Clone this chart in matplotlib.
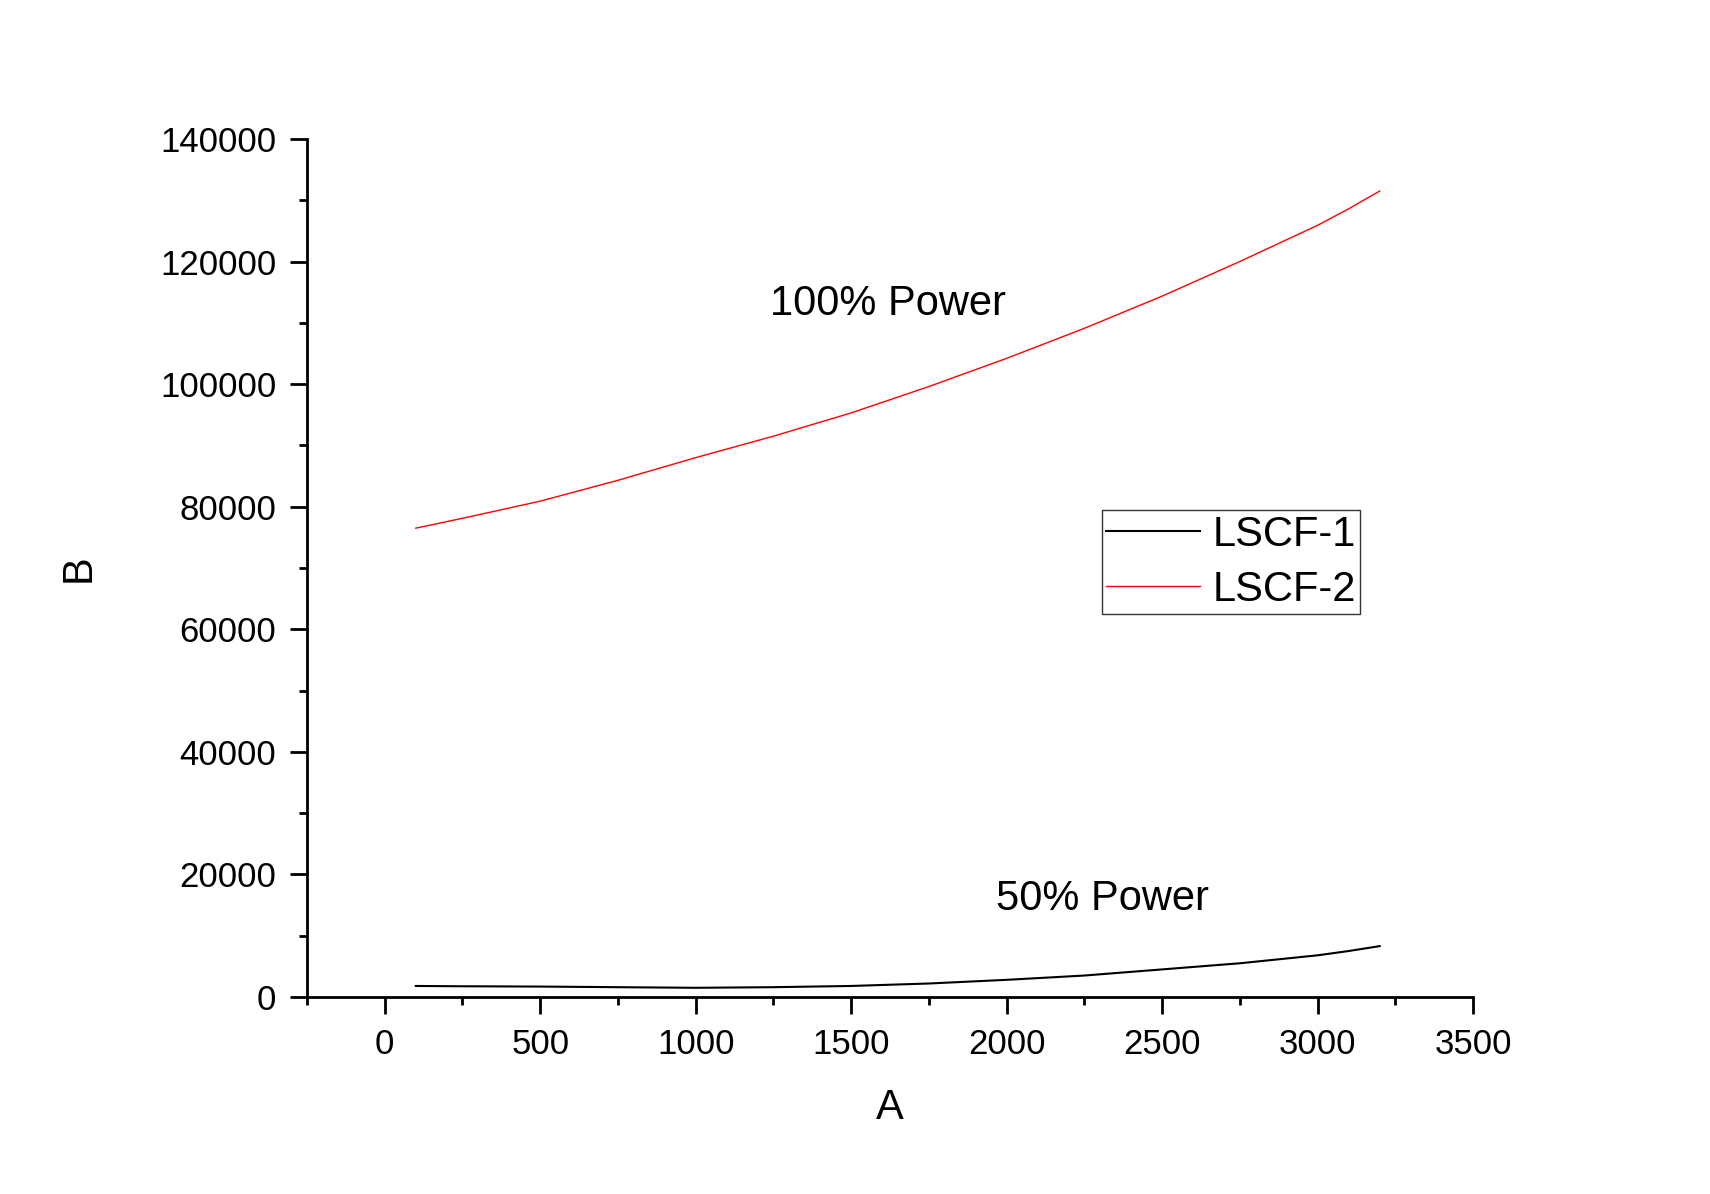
import numpy as np
import matplotlib
matplotlib.use("Agg")
import matplotlib.pyplot as plt
from matplotlib.ticker import MultipleLocator

plt.rcParams['font.family'] = ['Liberation Sans', 'DejaVu Sans']

# data
a_vals = [100, 250, 500, 750, 1000, 1250, 1500, 1750, 2000, 2250, 2500, 2750, 3000, 3100, 3200]
lscf1 = [1800, 1750, 1700, 1600, 1500, 1600, 1800, 2200, 2800, 3500, 4500, 5500, 6800, 7500, 8300]
lscf2 = [76500, 78100, 80900, 84300, 88000, 91500, 95300, 99600, 104200, 109100, 114350, 120000, 125900, 128600, 131500]

fig = plt.figure(figsize=(17.1, 11.94), dpi=100)
ax = fig.add_axes([0.1795, 0.165, 0.6819, 0.7186])

ax.plot(a_vals, lscf1, color='black', lw=1.5, label='LSCF-1')
ax.plot(a_vals, lscf2, color='red', lw=1.0, label='LSCF-2')

ax.set_xlim(-250, 3500)
ax.set_ylim(0, 140000)
ax.xaxis.set_major_locator(MultipleLocator(500))
ax.xaxis.set_minor_locator(MultipleLocator(250))
ax.yaxis.set_major_locator(MultipleLocator(20000))
ax.yaxis.set_minor_locator(MultipleLocator(10000))

for s in ['top', 'right']:
    ax.spines[s].set_visible(False)
for s in ['left', 'bottom']:
    ax.spines[s].set_linewidth(2)

ax.tick_params(which='major', direction='out', length=12, width=2, labelsize=25, pad=10)
ax.tick_params(which='minor', direction='out', length=6, width=2)

ax.set_xlabel('A', fontsize=30, labelpad=20)
ax.set_ylabel('B', fontsize=30, labelpad=44)

ax.text(1620, 113000, '100% Power', fontsize=30, ha='center', va='center')
ax.text(2310, 16000, '50% Power', fontsize=30, ha='center', va='center')

leg = ax.legend(loc='upper left', bbox_to_anchor=(0.682, 0.567), fontsize=30,
                frameon=True, fancybox=False, handlelength=2.25, handletextpad=0.3,
                borderpad=0.1, labelspacing=0.36, borderaxespad=0)
leg.get_frame().set_edgecolor('black')
leg.get_frame().set_linewidth(1)

fig.savefig('out.png', dpi=100)
